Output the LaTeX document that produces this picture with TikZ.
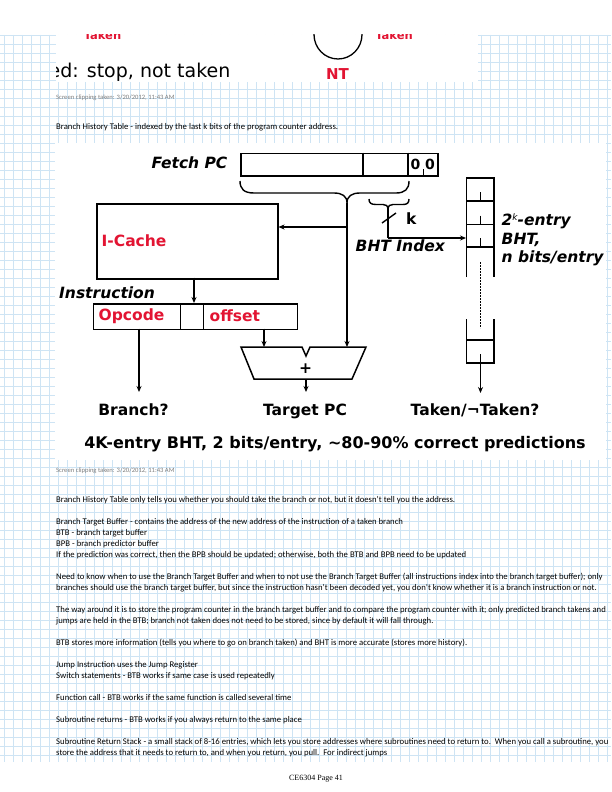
\documentclass[tikz,border=0pt]{standalone}
\usepackage{fontspec}
\setmainfont{Carlito}
\newfontfamily\dvs{DejaVu Sans}
\newfontfamily\serifpg{Liberation Serif}
\usetikzlibrary{arrows.meta}
\definecolor{gridc}{RGB}{206,228,244}
\definecolor{lblred}{RGB}{226,20,50}
\definecolor{clipgrey}{RGB}{125,125,125}
\begin{document}
\begin{tikzpicture}[x=1pt,y=-1pt,
  gridline/.style={draw=gridc, line width=0.6pt},
  bodytxt/.style={anchor=west, inner sep=0pt, font=\fontsize{8.7}{10}\selectfont},
  cliptxt/.style={anchor=west, inner sep=0pt, text=clipgrey, font=\fontsize{6.6}{7}\selectfont},
  lbl/.style={inner sep=0pt, font=\dvs\bfseries\fontsize{15.5}{18}\selectfont},
  ilbl/.style={inner sep=0pt, font=\dvs\bfseries\itshape\fontsize{15.5}{18}\selectfont},
  rlbl/.style={lbl, text=lblred},
  regbox/.style={draw, line width=1.5pt, inner sep=0pt, anchor=north west},
  wire/.style={line width=1.4pt},
  thk/.style={line width=1.5pt},
  arr/.style={wire, -{Stealth[length=6pt,width=5pt]}},
]
\useasboundingbox (0,0) rectangle (611,792);
\fill[white] (0,0) rectangle (611,792);
% ---------- grid paper ----------
\foreach \gx in {4,13,...,611} \draw[gridline] (\gx,35) -- (\gx,762);
\foreach \gy in {35,44,...,762} \draw[gridline] (0,\gy) -- (611,\gy);
% ---------- top clipping ----------
\begin{scope}
  \clip (56,35) rectangle (478,82);
  \fill[white] (56,35) rectangle (478,82);
  \node[anchor=base, inner sep=0pt, text=lblred, font=\dvs\bfseries\fontsize{11.5}{12}\selectfont] (takenA) at (102.5,39.5) {Taken};
  \node[anchor=base, inner sep=0pt, text=lblred, font=\dvs\bfseries\fontsize{11.5}{12}\selectfont] (takenB) at (394,39.5) {Taken};
  \draw[line width=1.3pt] (338,34.5) ellipse [x radius=24, y radius=24.5];
  \node[anchor=base west, inner sep=0pt, font=\dvs\fontsize{19}{22}\selectfont] (stoptxt) at (48.5,77.5) {ed: stop, not taken};
  \node[anchor=base, inner sep=0pt, text=lblred, font=\dvs\bfseries\fontsize{15}{18}\selectfont] (ntlbl) at (337.5,80) {NT};
\end{scope}
\node[cliptxt] (clipA) at (56,98) {Screen clipping taken: 3/20/2012, 11:43 AM};
\node[bodytxt] (bhtline) at (56,127.7) {Branch History Table - indexed by the last k bits of the program counter address.};
% ---------- diagram ----------
\fill[white] (55,143) rectangle (606,460);
\node[ilbl, anchor=west] (fetch) at (151.5,163) {Fetch PC};
\node[regbox, minimum width=197pt, minimum height=22.5pt] (pc) at (240,152.5) {};
\draw[thk] (363,152.5) -- (363,175);
\draw[thk] (408,152.5) -- (408,175);
\node[lbl, font=\dvs\bfseries\fontsize{14}{16}\selectfont] (zeroA) at (415.5,164.5) {0};
\node[lbl, font=\dvs\bfseries\fontsize{14}{16}\selectfont] (zeroB) at (430,164.5) {0};
\draw[line width=1pt] (423,169) -- (423,175);
% big brace
\coordinate (bbL) at (240,181);
\coordinate (bbTip) at (347,203);
\coordinate (bbR) at (409,181);
\draw[wire] (bbL) .. controls (240,189) and (244,193) .. (254,193) -- (334,193) .. controls (342,193) and (347,196) .. (bbTip) .. controls (347,196) and (352,193) .. (360,193) -- (396,193) .. controls (405,193) and (409,189) .. (bbR);
% small brace
\coordinate (sbL) at (369,199);
\coordinate (sbTip) at (388,208);
\coordinate (sbR) at (409,199);
\draw[wire] (sbL) .. controls (369,203) and (371,204.5) .. (376,204.5) -- (383,204.5) .. controls (386,204.5) and (388,206) .. (sbTip) .. controls (388,206) and (390,204.5) .. (393,204.5) -- (403,204.5) .. controls (407,204.5) and (409,203) .. (sbR);
% I-cache
\node[regbox, minimum width=181pt, minimum height=75pt] (icache) at (96,203) {};
\node[rlbl, anchor=west] (icl) at (101.5,241) {I-Cache};
% instruction
\node[ilbl, anchor=west] (instrlbl) at (59,292.5) {Instruction};
\node[regbox, minimum width=204pt, minimum height=25.5pt] (instr) at (92.5,303) {};
\draw[thk] (180.7,303) -- (180.7,328.5);
\draw[thk] (203.7,303) -- (203.7,328.5);
\node[rlbl, anchor=west] (opc) at (98.5,316) {Opcode};
\node[rlbl, anchor=west] (offs) at (209.5,316) {offset};
% BHT table
\draw[thk] (466.5,277) -- (466.5,178) -- (494,178) -- (494,277);
\foreach \yy in {201,224.5,247} {
  \draw[thk] (466.5,\yy) -- (494,\yy);
  \draw[line width=1.2pt] (480.5,{\yy-9}) -- (480.5,\yy);
}
\draw[line width=1.6pt, dash pattern=on 1.6pt off 1.4pt] (480.5,262) -- (480.5,328);
\draw[thk] (466.5,319) -- (466.5,363) -- (494,363) -- (494,319);
\draw[thk] (466.5,340) -- (494,340);
\coordinate (bhtIn) at (466,238);
\coordinate (bhtOut) at (480.5,354);
\node[ilbl, anchor=west] (bhtA) at (501.5,221) {2{\dvs\mdseries\itshape\fontsize{9}{9}\selectfont\raisebox{5pt}{k}}-entry};
\node[ilbl, anchor=west] (bhtB) at (501.5,239.5) {BHT,};
\node[ilbl, anchor=west] (bhtC) at (501.5,258.5) {n bits/entry};
% index path
\coordinate (idxCorner) at (388,238);
\draw[wire] (sbTip) -- (idxCorner);
\draw[arr] (idxCorner) -- (bhtIn);
\draw[wire] (382,223) -- (396,213);
\node[lbl, anchor=west] (klbl) at (406,219) {k};
\node[ilbl, anchor=west] (bhtidx) at (355.5,246) {BHT Index};
% PC upper bits path
\coordinate (junc) at (347,227);
\coordinate (addR) at (347,347);
\draw[wire] (bbTip) -- (junc);
\draw[arr] (junc) -- (icache.east |- junc);
\draw[arr] (junc) -- (addR);
% I-cache to instruction
\coordinate (icOut) at (194,277.5);
\draw[arr] (icOut) -- (icOut |- instr.north);
% branch
\coordinate (brStart) at (139,328.5);
\coordinate (brEnd) at (139,392);
\draw[arr] (brStart) -- (brEnd);
% offset to adder
\coordinate (offOut) at (264,328.5);
\coordinate (addL) at (264,347);
\draw[arr] (offOut) -- (addL);
% adder
\draw[thk, line join=miter] (241,347) -- (302,347) -- (306,356) -- (310,347) -- (366,347) -- (352,379) -- (254,379) -- cycle;
\node[lbl] (plus) at (305.5,368.5) {+};
\coordinate (addOut) at (306,379);
\coordinate (tpcEnd) at (306,392);
\draw[arr] (addOut) -- (tpcEnd);
% BHT output
\coordinate (tknEnd) at (480.5,393);
\draw[arr] (bhtOut) -- (tknEnd);
% output labels
\node[lbl] (brl) at (133.5,410) {Branch?};
\node[lbl] (tpc) at (305,411) {Target PC};
\node[lbl] (tkn) at (475,410) {Taken/¬Taken?};
\node[lbl, font=\dvs\bfseries\fontsize{16}{18}\selectfont] (summary) at (335,444) {4K-entry BHT, 2 bits/entry, ∼80-90\% correct predictions};
% ---------- notes ----------
\node[cliptxt] (clipB) at (56,471) {Screen clipping taken: 3/20/2012, 11:43 AM};
\node[bodytxt] (t1) at (56,500) {Branch History Table only tells you whether you should take the branch or not, but it doesn't tell you the address.};
\node[bodytxt] (t3) at (56,522) {Branch Target Buffer - contains the address of the new address of the instruction of a taken branch};
\node[bodytxt] (t4) at (56,533) {BTB - branch target buffer};
\node[bodytxt] (t5) at (56,544) {BPB - branch predictor buffer};
\node[bodytxt] (t6) at (56,555) {If the prediction was correct, then the BPB should be updated; otherwise, both the BTB and BPB need to be updated};
\node[bodytxt] (t8) at (56,577) {Need to know when to use the Branch Target Buffer and when to not use the Branch Target Buffer (all instructions index into the branch target buffer); only};
\node[bodytxt] (t9) at (56,588) {branches should use the branch target buffer, but since the instruction hasn't been decoded yet, you don't know whether it is a branch instruction or not.};
\node[bodytxt] (t11) at (56,610) {The way around it is to store the program counter in the branch target buffer and to compare the program counter with it; only predicted branch takens and};
\node[bodytxt] (t12) at (56,621) {jumps are held in the BTB; branch not taken does not need to be stored, since by default it will fall through.};
\node[bodytxt] (t14) at (56,643) {BTB stores more information (tells you where to go on branch taken) and BHT is more accurate (stores more history).};
\node[bodytxt] (t16) at (56,665) {Jump Instruction uses the Jump Register};
\node[bodytxt] (t17) at (56,676) {Switch statements - BTB works if same case is used repeatedly};
\node[bodytxt] (t19) at (56,698) {Function call - BTB works if the same function is called several time};
\node[bodytxt] (t21) at (56,720) {Subroutine returns - BTB works if you always return to the same place};
\node[bodytxt] (t23) at (56,742) {Subroutine Return Stack - a small stack of 8-16 entries, which lets you store addresses where subroutines need to return to.\ \ When you call a subroutine, you};
\node[bodytxt] (t24) at (56,753) {store the address that it needs to return to, and when you return, you pull.\ \ For indirect jumps};
\node[inner sep=0pt, font=\serifpg\fontsize{8}{9}\selectfont] (pageno) at (316,779) {CE6304 Page 41};
\end{tikzpicture}
\end{document}
